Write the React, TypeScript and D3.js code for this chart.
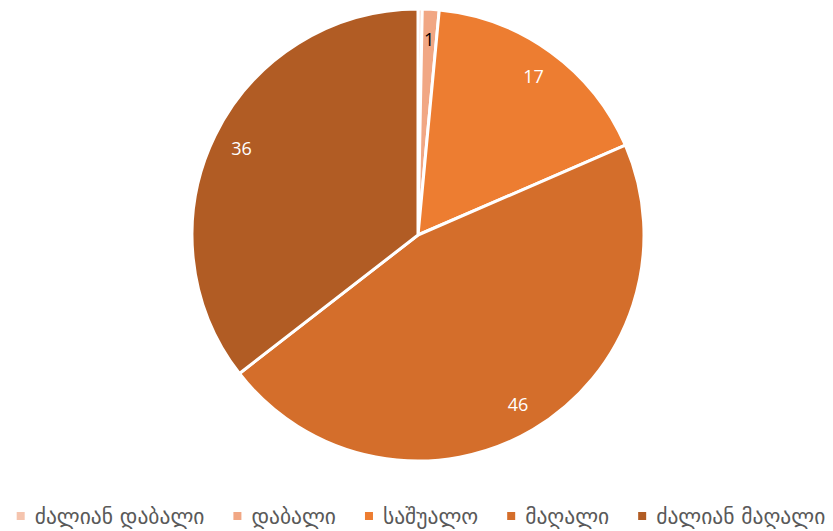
import React, { useEffect, useRef } from "react";
import * as d3 from "d3";

const categories = ["ძალიან დაბალი", "დაბალი", "საშუალო", "მაღალი", "ძალიან მაღალი"];
const values = [0.3, 1.2, 17, 46, 35.5];
const colors = ["#F5C4AE", "#F1A784", "#ED7D31", "#D46E2B", "#B15C24"];
const labelColors = ["#000000", "#000000", "#FFFFFF", "#FFFFFF", "#FFFFFF"];

const W = 833;
const H = 531;

export default function App() {
  const ref = useRef<SVGSVGElement | null>(null);

  useEffect(() => {
    const svg = d3.select(ref.current);
    svg.selectAll("*").remove();

    const cx = 418, cy = 235, R = 226;
    const g = svg.append("g").attr("transform", `translate(${cx},${cy})`);
    const data = categories.map((c, i) => ({ c, v: values[i], i }));
    const pie = d3.pie<any>().value((d) => d.v).sort(null);
    const arcs = pie(data);
    const arc = d3.arc<any>().innerRadius(0).outerRadius(R);
    const labelArc = d3.arc<any>().innerRadius(R * 0.87).outerRadius(R * 0.87);

    g.selectAll("path.slice")
      .data(arcs)
      .enter()
      .append("path")
      .attr("d", arc)
      .attr("fill", (d) => colors[d.data.i])
      .attr("stroke", "#fff")
      .attr("stroke-width", 3)
      .attr("stroke-linejoin", "round");

    g.selectAll("text.lbl")
      .data(arcs.filter((d) => Math.round(d.data.v) > 0))
      .enter()
      .append("text")
      .attr("transform", (d) => `translate(${labelArc.centroid(d)})`)
      .attr("text-anchor", "middle")
      .attr("dominant-baseline", "central")
      .attr("font-family", "'Open Sans', 'Liberation Sans', sans-serif")
      .attr("font-size", 18)
      .attr("fill", (d) => labelColors[d.data.i])
      .text((d) => String(Math.round(d.data.v)));

    // legend
    const lg = svg.append("g");
    const items = lg.selectAll("g.item").data(data).enter().append("g");
    items
      .append("rect")
      .attr("width", 8)
      .attr("height", 8)
      .attr("y", -4)
      .attr("fill", (d) => colors[d.i]);
    const texts = items
      .append("text")
      .attr("x", 18)
      .attr("dominant-baseline", "central")
      .attr("font-family", "'DejaVu Sans', 'Noto Sans Georgian', sans-serif")
      .attr("font-size", 21.5)
      .attr("fill", "#595959")
      .text((d) => d.c);
    const widths: number[] = [];
    texts.each(function () {
      widths.push((this as SVGTextElement).getComputedTextLength());
    });
    const gap = 29;
    const itemW = widths.map((w) => 18 + w);
    const total = d3.sum(itemW) + gap * (itemW.length - 1);
    let x = 421 - total / 2;
    const xs: number[] = [];
    itemW.forEach((w) => {
      xs.push(x);
      x += w + gap;
    });
    items.attr("transform", (d) => `translate(${xs[d.i]},516)`);
  }, []);

  return (
    <svg
      ref={ref}
      width={W}
      height={H}
      style={{ position: "absolute", left: 0, top: 0, background: "#fff" }}
    />
  );
}
